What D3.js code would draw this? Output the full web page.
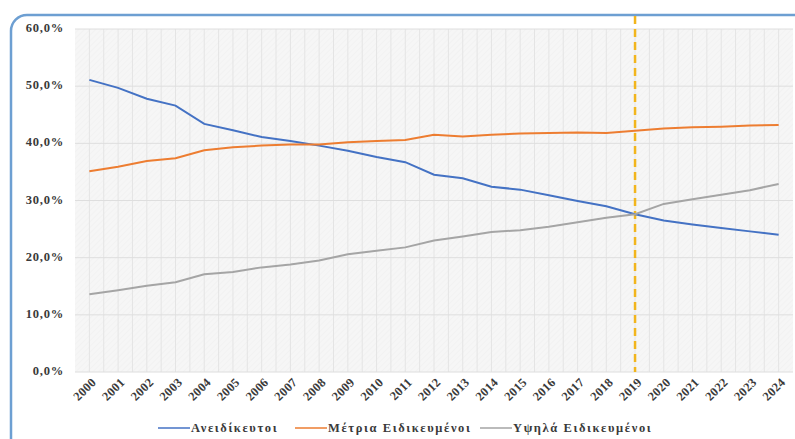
<!DOCTYPE html>
<html>
<head>
<meta charset="utf-8">
<script src="https://cdn.jsdelivr.net/npm/d3@7"></script>
<style>
  body { margin: 0; background: #fff; }
  text { font-family: "Liberation Serif", "DejaVu Serif", serif; font-weight: bold; fill: #3a3a3a; }
</style>
</head>
<body>
<div id="chart"></div>
<script>
var svgWidth = 795;
var svgHeight = 439;

// data
var years = d3.range(2000, 2025).map(String);
var unskilled = [51.1, 49.7, 47.8, 46.6, 43.4, 42.3, 41.1, 40.4, 39.6, 38.7, 37.6, 36.7, 34.5, 33.9, 32.4, 31.9, 30.9, 29.9, 29.0, 27.6, 26.5, 25.8, 25.2, 24.6, 24.0];
var medium = [35.1, 35.9, 36.9, 37.4, 38.8, 39.3, 39.6, 39.8, 39.8, 40.2, 40.4, 40.6, 41.5, 41.2, 41.5, 41.7, 41.8, 41.9, 41.8, 42.2, 42.6, 42.8, 42.9, 43.1, 43.2];
var high = [13.6, 14.3, 15.1, 15.7, 17.1, 17.5, 18.3, 18.8, 19.5, 20.6, 21.2, 21.8, 23.0, 23.7, 24.5, 24.8, 25.4, 26.2, 27.0, 27.6, 29.4, 30.2, 31.0, 31.8, 32.9];
var seriesNames = ["Ανειδίκευτοι", "Μέτρια Ειδικευμένοι", "Υψηλά Ειδικευμένοι"];
var yTicks = [0, 10, 20, 30, 40, 50, 60];
var markerYear = "2019";

var colors = ["#4472c4", "#ed7d31", "#a5a5a5"];
var series = [unskilled, medium, high];

var plot = { left: 75, right: 793, top: 29, bottom: 372 };

var svg = d3.select("#chart")
  .append("svg")
  .attr("width", svgWidth)
  .attr("height", svgHeight);

// hatched background pattern
var defs = svg.append("defs");
var pat = defs.append("pattern")
  .attr("id", "hatch")
  .attr("width", 4).attr("height", 4)
  .attr("patternUnits", "userSpaceOnUse")
  .attr("patternTransform", "rotate(45)");
pat.append("rect").attr("width", 4).attr("height", 4).attr("fill", "#f6f6f6");
pat.append("line").attr("x1", 0).attr("y1", 0).attr("x2", 0).attr("y2", 4)
  .attr("stroke", "#eeeeee").attr("stroke-width", 1);

// outer frame (cut off at right and bottom)
svg.append("rect")
  .attr("x", 11).attr("y", 15)
  .attr("width", 820).attr("height", 450)
  .attr("rx", 16)
  .attr("fill", "#fff")
  .attr("stroke", "#6d9fd2")
  .attr("stroke-width", 2.5);

var x = d3.scalePoint()
  .domain(years)
  .range([plot.left, plot.right])
  .padding(0.5);

var y = d3.scaleLinear()
  .domain([0, 60])
  .range([plot.bottom, plot.top]);

// plot area
svg.append("rect")
  .attr("x", plot.left).attr("y", plot.top)
  .attr("width", plot.right - plot.left)
  .attr("height", plot.bottom - plot.top)
  .attr("fill", "url(#hatch)");

// vertical gridlines at each year and half year
var step = x.step();
var vgrid = [];
years.forEach(function(yr) { vgrid.push(x(yr)); vgrid.push(x(yr) + step / 2); });
vgrid.unshift(x(years[0]) - step / 2);
svg.append("g").selectAll("line")
  .data(vgrid.filter(function(v) { return v > plot.left + 1 && v < plot.right; }))
  .join("line")
  .attr("x1", function(d) { return d; }).attr("x2", function(d) { return d; })
  .attr("y1", plot.top).attr("y2", plot.bottom)
  .attr("stroke", "#e4e4e4").attr("stroke-width", 1);

// horizontal gridlines
svg.append("g").selectAll("line")
  .data(yTicks)
  .join("line")
  .attr("x1", plot.left).attr("x2", plot.right)
  .attr("y1", function(d) { return y(d); }).attr("y2", function(d) { return y(d); })
  .attr("stroke", "#dedede").attr("stroke-width", 1);

// y axis labels
var fmt = function(d) { return d.toFixed(1).replace(".", ",") + "%"; };
var yAxis = svg.append("g")
  .attr("transform", "translate(" + plot.left + ",0)")
  .call(d3.axisLeft(y).tickValues(yTicks).tickFormat(fmt).tickSize(0).tickPadding(11));
yAxis.select(".domain").remove();
yAxis.selectAll("text")
  .style("font-family", '"Liberation Serif", serif')
  .style("font-weight", "bold")
  .style("font-size", "12.5px")
  .style("letter-spacing", "0.8px")
  .attr("fill", "#3a3a3a")
  .attr("dy", "0.2em");

// x axis labels
var xAxis = svg.append("g")
  .attr("transform", "translate(0," + plot.bottom + ")")
  .call(d3.axisBottom(x).tickSize(0).tickPadding(0));
xAxis.select(".domain").remove();
xAxis.selectAll("text")
  .style("font-family", '"Liberation Serif", serif')
  .style("font-weight", "bold")
  .style("font-size", "12.5px")
  .style("letter-spacing", "0.3px")
  .attr("fill", "#3a3a3a")
  .attr("text-anchor", "end")
  .attr("dy", 0)
  .attr("transform", "translate(7,11) rotate(-45)");

// marker line
svg.append("line")
  .attr("x1", x(markerYear)).attr("x2", x(markerYear))
  .attr("y1", 16).attr("y2", plot.bottom)
  .attr("stroke", "#f2b51c")
  .attr("stroke-width", 2.5)
  .attr("stroke-dasharray", "8,5");

// series lines
var line = d3.line()
  .x(function(d, i) { return x(years[i]); })
  .y(function(d) { return y(d); });

svg.append("g").selectAll("path")
  .data(series)
  .join("path")
  .attr("d", line)
  .attr("fill", "none")
  .attr("stroke", function(d, i) { return colors[i]; })
  .attr("stroke-width", 2);

// legend
var legendX = [158, 295, 480];
var legend = svg.append("g").selectAll("g")
  .data(seriesNames)
  .join("g")
  .attr("transform", function(d, i) { return "translate(" + legendX[i] + ",428)"; });
legend.append("line")
  .attr("x1", 0).attr("x2", 32).attr("y1", 0).attr("y2", 0)
  .attr("stroke", function(d, i) { return colors[i]; })
  .attr("stroke-width", 1.5);
legend.append("text")
  .attr("x", 33).attr("y", 4)
  .style("font-size", "12.5px")
  .style("letter-spacing", "1.6px")
  .text(function(d) { return d; });
</script>
</body>
</html>
